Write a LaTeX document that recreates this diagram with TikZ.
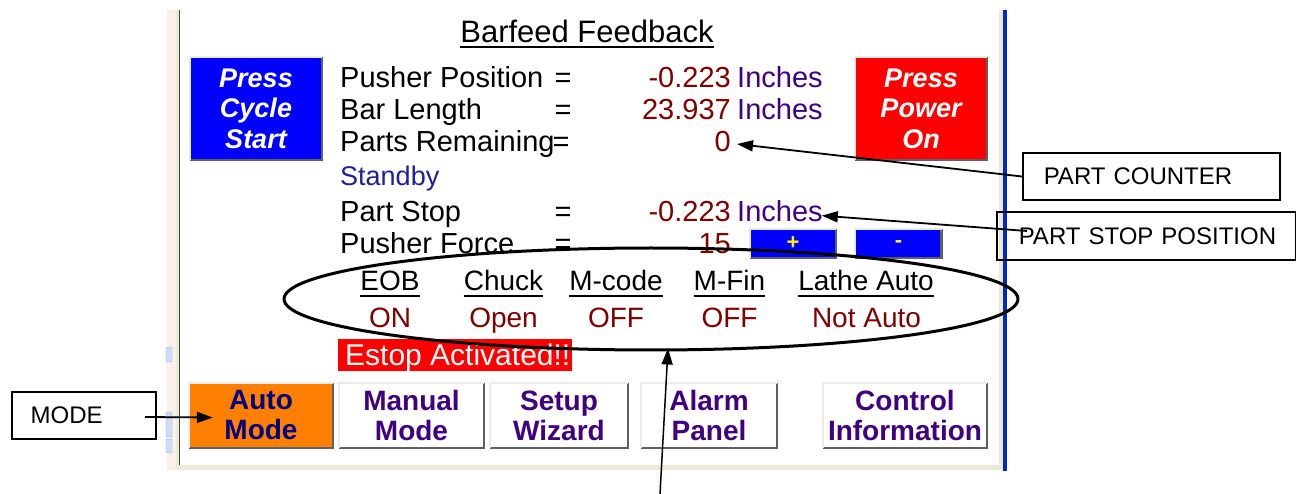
\documentclass[tikz,border=0pt]{standalone}
\usepackage{fontspec}
\setmainfont{Liberation Sans}
\usetikzlibrary{shapes.geometric,arrows.meta}
\definecolor{valred}{RGB}{128,0,0}
\definecolor{unitpurple}{RGB}{64,0,128}
\definecolor{standbyblue}{RGB}{32,32,150}
\definecolor{navytext}{RGB}{0,0,128}
\definecolor{btnorange}{RGB}{255,128,0}
\definecolor{panelbeige}{RGB}{250,240,230}
\definecolor{panelgray}{RGB}{236,233,216}
\definecolor{edgeblue}{RGB}{0,40,200}
\definecolor{shadowgray}{RGB}{96,96,96}
\definecolor{hlgray}{RGB}{235,235,235}
\definecolor{scrollblue}{RGB}{205,220,248}
\definecolor{scrolledge}{RGB}{150,180,230}
\newcommand\myfs[1]{\fontsize{#1}{#1}\selectfont}
\newcommand\mybevel[1]{%
  \draw[line width=2.5pt,shadowgray] (#1.north east) -- (#1.south east) -- (#1.south west);
  \draw[line width=2pt,hlgray] (#1.south west) -- (#1.north west) -- (#1.north east);}
\begin{document}
\begin{tikzpicture}[x=1pt,y=-1pt,
  txt/.style={inner sep=0pt,font=\myfs{29}},
  val/.style={inner sep=0pt,font=\myfs{29},text=valred,anchor=base east},
  unit/.style={inner sep=0pt,font=\myfs{29},text=unitpurple,anchor=base west},
  eqs/.style={inner sep=0pt,font=\myfs{29},anchor=base},
  head/.style={inner sep=0pt,font=\myfs{28},anchor=base},
  stat/.style={inner sep=0pt,font=\myfs{28},text=valred,anchor=base},
  bigbtn/.style={inner sep=0pt,align=center,text=white,font=\fontsize{27}{30.5}\selectfont\bfseries\itshape},
  btn/.style={inner sep=0pt,align=center,text=unitpurple,font=\fontsize{28}{30}\selectfont\bfseries,fill=white},
  smallbtn/.style={inner sep=0pt,fill=blue,text=yellow,font=\myfs{22}\bfseries,minimum width=86pt,minimum height=29pt},
  callout/.style={draw,line width=1.5pt,inner sep=0pt,font=\myfs{24}},
  arr/.style={line width=1.8pt,-{Triangle[length=16pt,width=11pt]}}]
\useasboundingbox (0,0) rectangle (1296,494);
% panel chrome
\fill[panelbeige] (167,10) rectangle (176,470);
\fill[panelgray] (176,10) rectangle (179,470);
\draw[line width=1.5pt,black!75] (179.5,10) -- (179.5,466);
\fill[panelgray] (179,465) rectangle (1003,470);
\fill[panelgray] (999,10) rectangle (1003,470);
\draw[line width=3.5pt,edgeblue] (1005,10) -- (1005,471);
\filldraw[fill=scrollblue,draw=scrolledge,rounded corners=1pt] (166,347) rectangle (172,362);
\filldraw[fill=scrollblue,draw=scrolledge,rounded corners=1pt] (166,412) rectangle (172,437);
\filldraw[fill=scrollblue,draw=scrolledge,rounded corners=1pt] (166,439) rectangle (172,453);
% title
\node[inner sep=0pt,font=\myfs{31},anchor=base] (title) at (587,43) {Barfeed Feedback};
\draw[line width=2pt] ([yshift=-4pt]title.base west) -- ([yshift=-4pt]title.base east);
% big buttons
\node[bigbtn,fill=blue,minimum width=132pt,minimum height=103pt] (cyc) at (256,108.5) {Press\\Cycle\\Start};
\mybevel{cyc}
\node[bigbtn,fill=red,minimum width=132pt,minimum height=103pt] (pwr) at (921,108.5) {Press\\Power\\On};
\mybevel{pwr}
% rows
\node[txt,anchor=base west] (l1) at (340,88) {Pusher Position};
\node[eqs] (e1) at (563,88) {=};
\node[val] (v1) at (731,88) {-0.223};
\node[unit] (u1) at (737,88) {Inches};
\node[txt,anchor=base west] (l2) at (340,120) {Bar Length};
\node[eqs] (e2) at (563,120) {=};
\node[val] (v2) at (731,120) {23.937};
\node[unit] (u2) at (737,120) {Inches};
\node[txt,anchor=base west] (l3) at (340,152) {Parts Remaining};
\node[eqs] (e3) at (561,152) {=};
\node[val] (v3) at (731,152) {0};
\node[inner sep=0pt,font=\myfs{27},text=standbyblue,anchor=base west] (sb) at (340,186) {Standby};
\node[txt,anchor=base west] (l5) at (340,222) {Part Stop};
\node[eqs] (e5) at (563,222) {=};
\node[val] (v5) at (731,222) {-0.223};
\node[unit] (u5) at (737,222) {Inches};
\node[txt,anchor=base west] (l6) at (340,254) {Pusher Force};
\node[eqs] (e6) at (563,254) {=};
\node[val] (v6) at (731,254) {15};
\node[smallbtn] (plus) at (793,243.5) {+};
\mybevel{plus}
\node[smallbtn] (minus) at (898.5,243.5) {-};
\mybevel{minus}
% status
\foreach \n/\x/\t in {h1/390/EOB,h2/503.5/Chuck,h3/616/M-code,h4/729.5/M-Fin,h5/866/Lathe Auto}{
  \node[head] (\n) at (\x,291) {\t};
  \draw[line width=2pt] ([yshift=-5pt]\n.base west) -- ([yshift=-5pt]\n.base east);
}
\node[stat] (s1) at (390,328) {ON};
\node[stat] (s2) at (503.5,328) {Open};
\node[stat] (s3) at (616,328) {OFF};
\node[stat] (s4) at (729.5,328) {OFF};
\node[stat] (s5) at (866.5,328) {Not Auto};
% estop
\node[fill=red,inner sep=0pt,minimum width=234pt,minimum height=32pt] (estop) at (455,355) {};
\node[inner sep=0pt,font=\myfs{30},text=white,anchor=base west] (estopt) at (345,366) {Estop Activated!!};
% bottom buttons
\node[btn,fill=btnorange,text=navytext,minimum width=144pt,minimum height=65pt] (auto) at (261,415.5) {Auto\\Mode};
\mybevel{auto}
\node[btn,minimum width=145pt,minimum height=65pt] (man) at (411.5,415.5) {Manual\\Mode};
\mybevel{man}
\node[btn,minimum width=138pt,minimum height=65pt] (setup) at (559,415.5) {Setup\\Wizard};
\mybevel{setup}
\node[btn,minimum width=136pt,minimum height=65pt] (alarm) at (709,415.5) {Alarm\\Panel};
\mybevel{alarm}
\node[btn,minimum width=164pt,minimum height=65pt] (ctrl) at (905,415.5) {Control\\Information};
\mybevel{ctrl}
% oval
\node[draw,ellipse,line width=3pt,inner sep=0pt,minimum width=734pt,minimum height=102pt] (oval) at (651,299) {};
% callouts
\node[callout,anchor=west,text width=257pt,minimum height=47pt] (pc) at (1022,176.5) {\hspace*{21pt}PART COUNTER};
\node[callout,anchor=west,text width=299pt,minimum height=48pt] (ps) at (996,236) {\hspace*{22pt}PART STOP POSITION};
\node[callout,anchor=west,text width=144pt,minimum height=47pt] (mode) at (11,415.5) {\hspace*{19pt}MODE};
\coordinate (pstail) at (1027,231);
\coordinate (mtail) at (145,417);
\coordinate (ovtail) at (660,494);
\draw[arr] (pc.west) -- ([xshift=6pt,yshift=-2pt]v3.east);
\draw[arr] (pstail) -- ([xshift=-1pt,yshift=-4pt]u5.east);
\draw[arr] (mtail) -- ([xshift=24pt,yshift=-2pt]auto.west);
\draw[arr,line width=1.5pt] (ovtail) -- ([xshift=17pt,yshift=3pt]oval.south);
\end{tikzpicture}
\end{document}
